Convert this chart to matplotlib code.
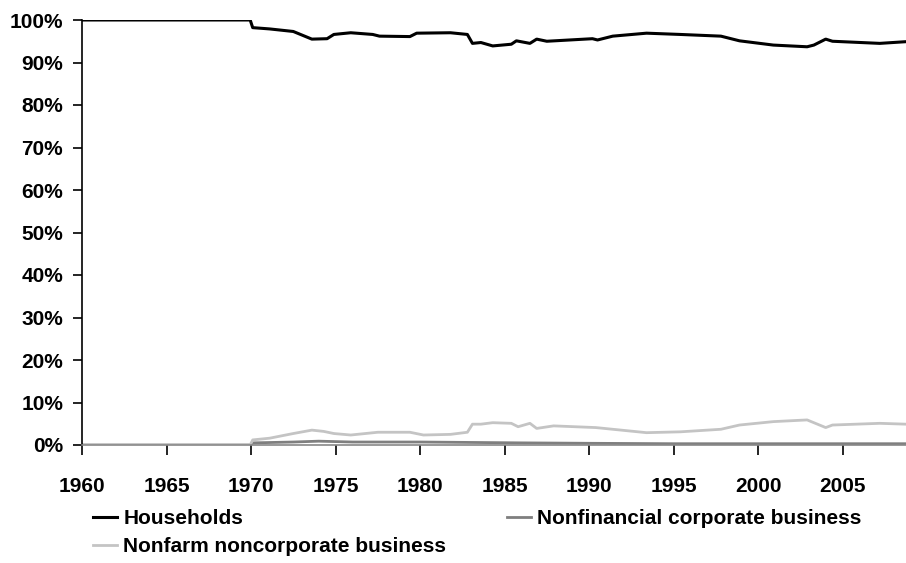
import matplotlib
matplotlib.use('Agg')
import matplotlib.pyplot as plt
from matplotlib.ticker import PercentFormatter
import numpy as np

# values (year, percent)
hh_years = [1960, 1969.95, 1970.1, 1971.1, 1972.5, 1973.6, 1974.5, 1974.9, 1975.9, 1977.2, 1977.6,
            1979.4, 1979.8, 1981.8, 1982.8, 1983.1, 1983.6, 1984.3, 1985.4, 1985.7, 1986.5, 1986.9,
            1987.5, 1990.2, 1990.5, 1991.4, 1993.4, 1995.4, 1997.8, 1998.9, 2000.9, 2002.9, 2003.3,
            2004.0, 2004.4, 2007.2, 2008.75]
hh_vals = [100, 100, 98.2, 97.9, 97.3, 95.5, 95.6, 96.6, 97.0, 96.6, 96.2,
           96.1, 96.9, 97.0, 96.6, 94.5, 94.7, 93.9, 94.3, 95.1, 94.5, 95.5,
           95.0, 95.6, 95.3, 96.2, 96.9, 96.6, 96.2, 95.1, 94.1, 93.7, 94.1,
           95.5, 95.0, 94.5, 94.9]

nonfarm_years = [1960, 1969.95, 1970.1, 1971.1, 1972.5, 1973.6, 1974.3, 1974.9, 1975.9, 1977.5,
                 1979.4, 1980.2, 1981.8, 1982.8, 1983.1, 1983.6, 1984.3, 1985.4, 1985.8, 1986.5,
                 1986.9, 1987.9, 1990.4, 1993.4, 1995.4, 1997.8, 1998.9, 2000.9, 2002.9, 2004.0,
                 2004.4, 2007.2, 2008.75]
nonfarm_vals = [0, 0, 1.2, 1.6, 2.7, 3.5, 3.2, 2.7, 2.35, 3.0,
                3.0, 2.35, 2.5, 3.0, 4.9, 4.9, 5.25, 5.1, 4.3, 5.1,
                3.9, 4.5, 4.1, 2.9, 3.1, 3.7, 4.7, 5.5, 5.9, 4.1,
                4.7, 5.1, 4.9]

nonfin_years = [1960, 1969.95, 1970.1, 1972.5, 1974.0, 1976.0, 1980.0, 1983.0, 1986.0, 1990.0,
                1995.0, 2000.0, 2005.0, 2008.75]
nonfin_vals = [0, 0, 0.5, 0.7, 0.9, 0.7, 0.7, 0.6, 0.5, 0.4,
               0.3, 0.3, 0.3, 0.3]

x_ticks = list(range(1960, 2010, 5))
y_ticks = list(range(0, 101, 10))

plt.rcParams['font.family'] = ['Liberation Sans', 'DejaVu Sans']
plt.rcParams['font.weight'] = 'bold'

fig = plt.figure(figsize=(9.06, 5.63), dpi=100)
ax = fig.add_axes([82 / 906, 118 / 563, 1 - 82 / 906, 425 / 563])

l_hh, = ax.plot(hh_years, hh_vals, color='black', lw=2.2, label='Households', zorder=3)
l_nc, = ax.plot(nonfin_years, nonfin_vals, color='#7f7f7f', lw=2.0,
                label='Nonfinancial corporate business', zorder=2)
l_nf, = ax.plot(nonfarm_years, nonfarm_vals, color='#c4c4c4', lw=2.0,
                label='Nonfarm noncorporate business', zorder=2.5)

ax.set_xlim(1960, 2008.75)
ax.set_ylim(0, 100)
ax.set_xticks(x_ticks)
ax.set_yticks(y_ticks)
ax.yaxis.set_major_formatter(PercentFormatter(decimals=0))
ax.tick_params(axis='both', direction='out', width=1.2, labelsize=15)
ax.tick_params(axis='x', length=7, pad=16)
ax.tick_params(axis='y', length=6.5, pad=7)
for lab in ax.get_xticklabels() + ax.get_yticklabels():
    lab.set_fontweight('bold')

ax.spines['top'].set_visible(False)
ax.spines['right'].set_visible(False)
ax.spines['left'].set_linewidth(1.2)
ax.spines['bottom'].set_linewidth(1.2)
ax.spines['bottom'].set_color('#888888')

fig.legend(handles=[l_hh, l_nf, l_nc], ncol=2, loc='upper left',
           bbox_to_anchor=(93 / 906, 1 - 509 / 563), frameon=False,
           prop={'size': 15, 'weight': 'bold'}, handlelength=1.15, handletextpad=0.3,
           columnspacing=2.9, labelspacing=0.45, borderaxespad=0, borderpad=0)

fig.savefig('out.png', dpi=100)
